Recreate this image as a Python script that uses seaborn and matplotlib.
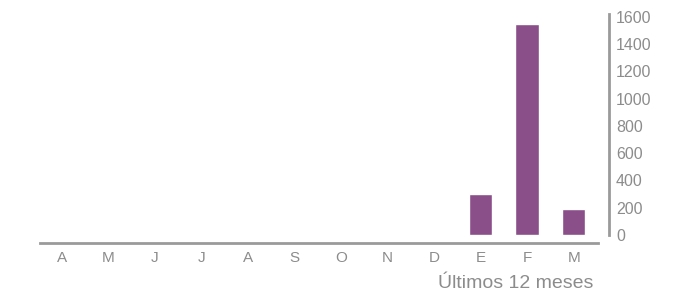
import matplotlib
matplotlib.use("Agg")
import matplotlib.pyplot as plt
import seaborn as sns
import pandas as pd

months = ["A", "M", "J", "J", "A", "S", "O", "N", "D", "E", "F", "M"]
values = [0, 0, 0, 0, 0, 0, 0, 0, 0, 300, 1550, 190]
yticks = [0, 200, 400, 600, 800, 1000, 1200, 1400, 1600]
xlabel = "Últimos 12 meses"

sns.set_style("white")
plt.rcParams["font.family"] = ["Liberation Sans", "DejaVu Sans"]

df = pd.DataFrame({"key": [f"{i}" for i in range(len(months))], "val": values})

fig = plt.figure(figsize=(6.79, 2.95), dpi=100)
ax = fig.add_axes([40 / 679, (295 - 243) / 295, (609 - 40) / 679, (243 - 14) / 295])
sns.barplot(data=df, x="key", y="val", color="#8a4e89", width=0.5,
            saturation=1, ax=ax)

gray = "#9a9a9a"
ax.set_xlim(-0.47, 11.76)
ax.set_ylim(-59, 1622)
ax.set_xticks(range(len(months)))
ax.set_xticklabels(months)
ax.set_yticks(yticks)
ax.set_yticklabels([str(v) for v in yticks])
ax.yaxis.tick_right()
ax.tick_params(axis="both", length=0, colors="#8c8c8c")
ax.tick_params(axis="y", pad=5, labelsize=11.5)
ax.tick_params(axis="x", pad=6, labelsize=11)
ax.set_xlabel("")
ax.set_ylabel("")

for s in ["top", "left"]:
    ax.spines[s].set_visible(False)
ax.spines["bottom"].set_color(gray)
ax.spines["bottom"].set_linewidth(2)
ax.spines["bottom"].set_bounds(-0.47, 11.53)
ax.spines["right"].set_color(gray)
ax.spines["right"].set_linewidth(2)
ax.spines["right"].set_bounds(0, 1622)

fig.text(593 / 679, 1 - 284 / 295, xlabel, ha="right", va="center",
         fontsize=14, color="#8c8c8c")

fig.savefig("out.png", dpi=100)
